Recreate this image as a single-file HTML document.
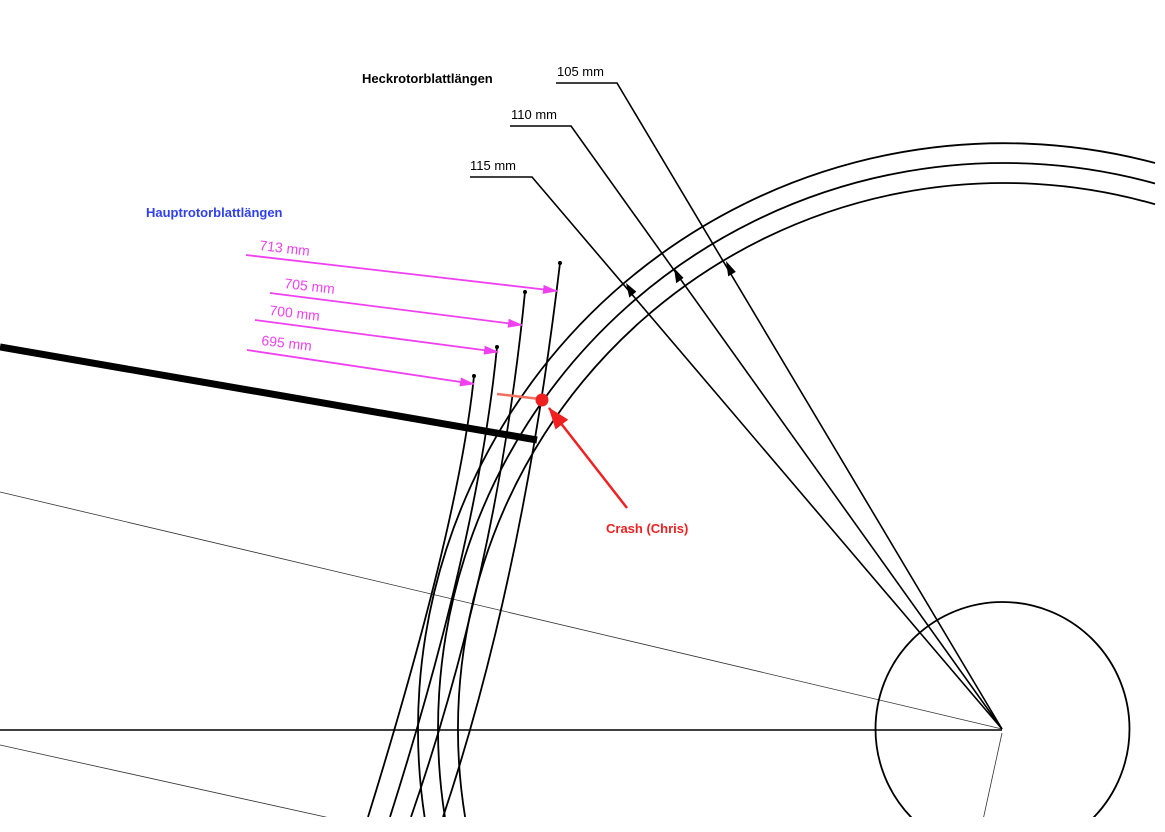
<!DOCTYPE html>
<html><head><meta charset="utf-8"><style>
html,body{margin:0;padding:0;background:#fff;}
svg{display:block;}
text{font-family:"Liberation Sans",Arial,sans-serif;}
</style></head><body>
<svg width="1165" height="832" viewBox="0 0 1165 832" xmlns="http://www.w3.org/2000/svg">
<defs>
<clipPath id="c"><rect x="0" y="0" width="1165" height="817"/></clipPath>
<marker id="mg" markerWidth="15" markerHeight="9" refX="14" refY="4.5" orient="auto" markerUnits="userSpaceOnUse">
<path d="M0,0 L15,4.5 L0,9 Z" fill="#f040f0"/></marker>
<marker id="rd" markerWidth="22" markerHeight="16" refX="21" refY="8" orient="auto" markerUnits="userSpaceOnUse">
<path d="M0,0 L22,8 L0,16 Z" fill="#f02020"/></marker>
</defs>
<g clip-path="url(#c)" fill="none" stroke="#000">
<line x1="0" y1="730" x2="1002" y2="730" stroke-width="1.6"/>
<line x1="0" y1="492" x2="1002" y2="729" stroke-width="0.8" stroke="#333"/>
<line x1="0" y1="745" x2="330" y2="818" stroke-width="0.8" stroke="#333"/>
<line x1="1002" y1="733" x2="983" y2="820" stroke-width="0.8" stroke="#333"/>
<circle cx="1002.5" cy="729" r="127" stroke-width="1.8"/>
<path d="M424.6,817 A586,586 0 0 1 1155,163" stroke-width="1.8"/>
<path d="M444.9,817 A566,566 0 0 1 1155,183.5" stroke-width="1.8"/>
<path d="M465.1,817 A546,546 0 0 1 1155,204.3" stroke-width="1.8"/>
<path d="M560,263 Q522.5,580 443,817" stroke-width="1.8"/>
<path d="M525,292 Q498,565.5 411,817" stroke-width="1.8"/>
<path d="M497,347 Q478.5,538 390,817" stroke-width="1.8"/>
<path d="M474,376 Q459,523.5 368,817" stroke-width="1.8"/>
<circle cx="560" cy="263" r="1.5" fill="#000"/>
<circle cx="525" cy="292" r="1.5" fill="#000"/>
<circle cx="497" cy="347" r="1.5" fill="#000"/>
<circle cx="474" cy="376" r="1.5" fill="#000"/>
<line x1="0" y1="347" x2="537" y2="440" stroke-width="7"/>
<polyline points="556,83 617,83 1002,729" stroke-width="1.6"/>
<polyline points="510,126 571,126 1002,729" stroke-width="1.6"/>
<polyline points="470,177 532,177 1002,729" stroke-width="1.6"/>
</g>
<polygon points="726,261 728.2,276.4 735.8,271.9" fill="#000"/>
<polygon points="674,268 676.2,283.2 683.5,277.9" fill="#000"/>
<polygon points="626,283 629.3,297.6 636.3,291.6" fill="#000"/>
<g stroke="#f040f0" stroke-width="1.8">
<line x1="246" y1="255" x2="557" y2="291" marker-end="url(#mg)"/>
<line x1="270" y1="293" x2="522" y2="325" marker-end="url(#mg)"/>
<line x1="255" y1="320" x2="498" y2="352" marker-end="url(#mg)"/>
<line x1="247" y1="350" x2="474" y2="384" marker-end="url(#mg)"/>
</g>
<g fill="#f040f0" font-size="14">
<text x="259" y="250" transform="rotate(6.6 259 250)">713 mm</text>
<text x="284" y="288" transform="rotate(6.6 284 288)">705 mm</text>
<text x="269" y="315" transform="rotate(6.6 269 315)">700 mm</text>
<text x="261" y="345" transform="rotate(6.6 261 345)">695 mm</text>
</g>
<line x1="497" y1="394" x2="540" y2="399" stroke="#f07060" stroke-width="2.5"/>
<line x1="627" y1="508" x2="549" y2="408" stroke="#f02020" stroke-width="2.5" marker-end="url(#rd)"/>
<circle cx="542" cy="400" r="6.5" fill="#f02020"/>
<text x="606" y="533" font-size="13" font-weight="bold" fill="#f02020">Crash (Chris)</text>
<text x="146" y="217" font-size="13" font-weight="bold" fill="#3040f0">Hauptrotorblattlängen</text>
<text x="362" y="83" font-size="13" font-weight="bold" fill="#000">Heckrotorblattlängen</text>
<text x="557" y="76" font-size="13" fill="#000">105 mm</text>
<text x="511" y="119" font-size="13" fill="#000">110 mm</text>
<text x="470" y="170" font-size="13" fill="#000">115 mm</text>
</svg>
</body></html>
